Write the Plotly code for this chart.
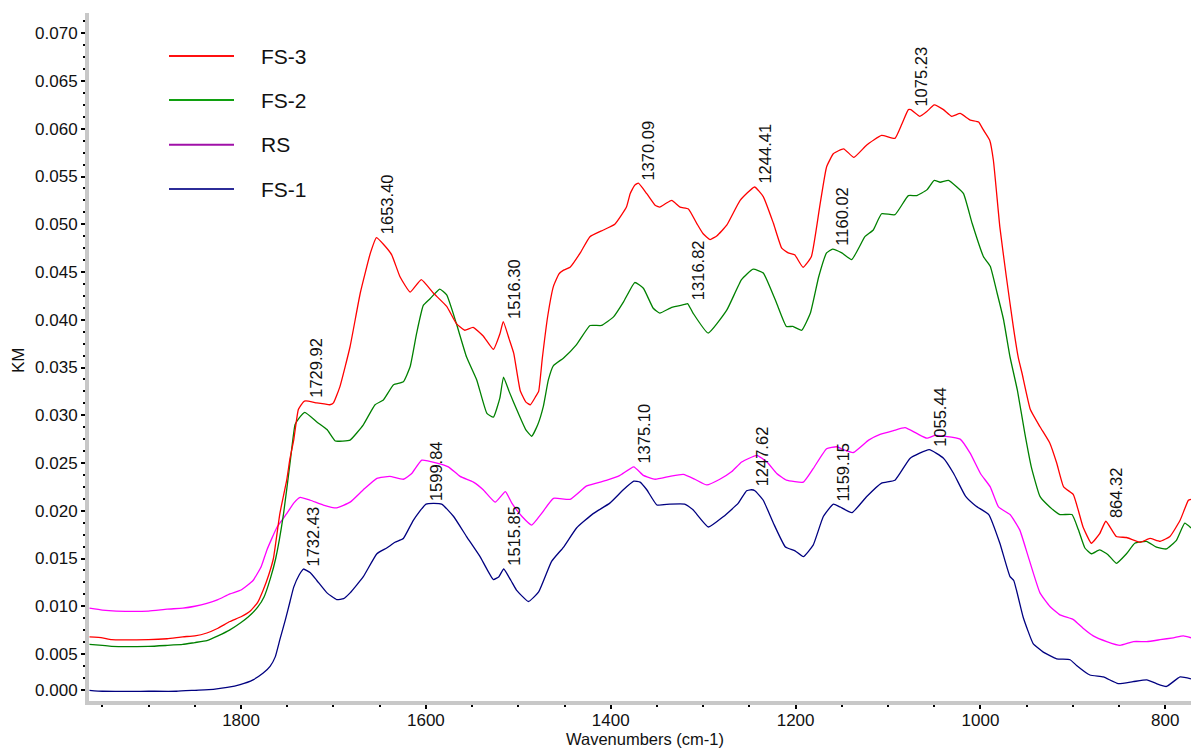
import numpy as np
import plotly.graph_objects as go

# ---------------- data ----------------
wn_fs3 = [1964, 1950, 1940, 1900, 1880, 1863, 1850, 1837, 1825, 1812, 1800, 1790, 1782, 1776, 1770, 1765,
          1758, 1750.6, 1747, 1743, 1738, 1732.6, 1729.92, 1718, 1710, 1704, 1700, 1693, 1682, 1671, 1660,
          1653.40, 1645, 1637, 1628, 1617, 1605, 1592, 1577.5, 1567, 1558, 1549, 1538, 1527, 1520, 1516.30,
          1510, 1505, 1498, 1492, 1487, 1481, 1478, 1474, 1468, 1462, 1456, 1451, 1444, 1433, 1422.5, 1408,
          1395.6, 1383, 1379, 1374, 1370.09, 1361, 1352, 1347, 1340, 1334, 1325, 1316, 1307, 1300, 1292.6,
          1285, 1274.5, 1260, 1244.41, 1235, 1224, 1215, 1208, 1201, 1192, 1183, 1174, 1166.5, 1159, 1148,
          1137, 1123, 1107, 1092.5, 1085, 1078, 1075.23, 1065.5, 1058, 1050, 1040, 1031, 1022, 1011, 1002,
          997, 990, 986, 979, 972, 964.5, 959, 955, 946, 935.6, 925, 917.5, 910, 899.5, 894, 889, 880, 871,
          864.32, 853, 842, 827, 816.6, 805.7, 795, 784, 775, 772.2]
km_fs3 = [0.0068, 0.0067, 0.0065, 0.0065, 0.0066, 0.0068, 0.0069, 0.0072, 0.0077, 0.0084, 0.0089, 0.0095,
          0.0104, 0.0117, 0.0133, 0.0150, 0.0197, 0.0232, 0.0255, 0.0274, 0.0306, 0.0314, 0.0315, 0.0313,
          0.0312, 0.0311, 0.0313, 0.0330, 0.0372, 0.0428, 0.0470, 0.0486, 0.0478, 0.0468, 0.0445, 0.0429,
          0.0442, 0.0428, 0.0414, 0.0396, 0.0389, 0.0392, 0.0383, 0.0369, 0.0385, 0.0398, 0.0380, 0.0365,
          0.0326, 0.0314, 0.0311, 0.0320, 0.0325, 0.0360, 0.0405, 0.0435, 0.0448, 0.0452, 0.0455, 0.0470,
          0.0487, 0.0494, 0.0500, 0.0518, 0.0532, 0.0541, 0.0543, 0.0532, 0.0520, 0.0518, 0.0522, 0.0525,
          0.0518, 0.0516, 0.0501, 0.0490, 0.0484, 0.0488, 0.0499, 0.0525, 0.0539, 0.0529, 0.0501, 0.0475,
          0.0470, 0.0468, 0.0455, 0.0466, 0.0518, 0.0560, 0.0574, 0.0579, 0.0570, 0.0583, 0.0593, 0.0590,
          0.0605, 0.0620, 0.0620, 0.0613, 0.0618, 0.0625, 0.0620, 0.0613, 0.0616, 0.0609, 0.0607, 0.0599,
          0.0588, 0.0567, 0.0497, 0.0445, 0.0393, 0.0360, 0.0344, 0.0306, 0.0288, 0.0271, 0.0250, 0.0225,
          0.0217, 0.0200, 0.0183, 0.0166, 0.0176, 0.0189, 0.0173, 0.0172, 0.0167, 0.0171, 0.0168, 0.0173,
          0.0190, 0.0211, 0.0212]

wn_fs2 = [1964, 1950, 1940, 1900, 1880, 1863, 1850, 1837, 1825, 1812.5, 1800, 1792, 1782, 1775, 1768, 1762.5,
          1754, 1747, 1741.6, 1738, 1731, 1718, 1707, 1698, 1690, 1682, 1667.7, 1655, 1646, 1635, 1624.4,
          1617, 1610, 1602.8, 1595.5, 1585, 1577.5, 1567, 1556, 1545, 1534, 1527, 1520, 1516, 1510, 1500,
          1492, 1485.5, 1479, 1473, 1467.5, 1462, 1451, 1437, 1422.4, 1410, 1397, 1386, 1374, 1364.7, 1354,
          1347, 1334, 1320, 1316.82, 1311, 1294.6, 1274.5, 1258.5, 1246, 1235, 1220.4, 1210, 1203, 1193.4,
          1184, 1175, 1166.5, 1160.02, 1150, 1139.3, 1125, 1116, 1107, 1092.5, 1078, 1069, 1058, 1050,
          1043.6, 1034.6, 1025.5, 1018.3, 1009, 996.7, 989.4, 982, 975, 968, 960, 952, 945, 935.6, 925, 914,
          901, 894, 887, 880, 871, 862, 853, 842, 833, 820.4, 809.6, 798.8, 788, 779, 772.2]
km_fs2 = [0.0060, 0.0059, 0.0058, 0.0058, 0.0059, 0.0060, 0.0062, 0.0064, 0.0069, 0.0075, 0.0083, 0.0089,
          0.0099, 0.0110, 0.0130, 0.0150, 0.0197, 0.0250, 0.0290, 0.0296, 0.0303, 0.0293, 0.0285, 0.0273,
          0.0273, 0.0274, 0.0290, 0.0311, 0.0316, 0.0332, 0.0335, 0.0351, 0.0386, 0.0415, 0.0422, 0.0432,
          0.0426, 0.0396, 0.0361, 0.0337, 0.0302, 0.0298, 0.0318, 0.0340, 0.0325, 0.0302, 0.0285, 0.0278,
          0.0290, 0.0309, 0.0337, 0.0352, 0.0360, 0.0374, 0.0394, 0.0394, 0.0403, 0.0419, 0.0439, 0.0433,
          0.0412, 0.0407, 0.0413, 0.0416, 0.0417, 0.0407, 0.0386, 0.0410, 0.0442, 0.0453, 0.0449, 0.0417,
          0.0393, 0.0393, 0.0389, 0.0407, 0.0445, 0.0470, 0.0474, 0.0470, 0.0463, 0.0487, 0.0494, 0.0511,
          0.0510, 0.0530, 0.0530, 0.0536, 0.0546, 0.0544, 0.0546, 0.0539, 0.0532, 0.0501, 0.0466, 0.0456,
          0.0428, 0.0400, 0.0361, 0.0326, 0.0281, 0.0246, 0.0215, 0.0204, 0.0196, 0.0196, 0.0180, 0.0161,
          0.0155, 0.0159, 0.0154, 0.0145, 0.0155, 0.0166, 0.0168, 0.0162, 0.0160, 0.0169, 0.0187, 0.0182]

wn_rs = [1964, 1950, 1935, 1900, 1880, 1863, 1850, 1837, 1825, 1812, 1800, 1787, 1778, 1772, 1761, 1750.6,
         1743, 1736, 1725, 1711, 1696.5, 1682, 1667.7, 1653, 1639, 1624.4, 1615.3, 1604.5, 1588, 1575.7,
         1563, 1548.6, 1538, 1525, 1514, 1507, 1496, 1485.5, 1475, 1462, 1444, 1426, 1404, 1390, 1375.10,
         1364.7, 1352, 1336, 1321.5, 1309, 1296, 1282, 1269, 1258.4, 1242, 1231, 1220.4, 1210, 1191.6, 1181,
         1166.5, 1155.6, 1148.5, 1137.6, 1121, 1108.6, 1094, 1081.6, 1069, 1058, 1049, 1038.5, 1022, 1011,
         1000, 989.4, 980.5, 968, 957.5, 948.3, 935.6, 925, 914, 899.5, 889, 878, 863.4, 849, 834.6, 820,
         805.6, 791.3, 780.4, 772.2]
km_rs = [0.0098, 0.0096, 0.0095, 0.0095, 0.0097, 0.0098, 0.0100, 0.0103, 0.0107, 0.0113, 0.0117, 0.0127,
         0.0142, 0.0159, 0.0183, 0.0197, 0.0208, 0.0214, 0.0211, 0.0206, 0.0203, 0.0209, 0.0222, 0.0234,
         0.0236, 0.0233, 0.0239, 0.0253, 0.0250, 0.0246, 0.0236, 0.0230, 0.0222, 0.0209, 0.0220, 0.0208,
         0.0194, 0.0185, 0.0197, 0.0213, 0.0212, 0.0226, 0.0232, 0.0237, 0.0246, 0.0237, 0.0233, 0.0236,
         0.0238, 0.0233, 0.0227, 0.0233, 0.0241, 0.0251, 0.0258, 0.0251, 0.0239, 0.0232, 0.0230, 0.0244,
         0.0265, 0.0267, 0.0264, 0.0261, 0.0274, 0.0280, 0.0284, 0.0287, 0.0281, 0.0276, 0.0279, 0.0278,
         0.0275, 0.0260, 0.0239, 0.0225, 0.0204, 0.0196, 0.0180, 0.0152, 0.0114, 0.0100, 0.0091, 0.0086,
         0.0077, 0.0069, 0.0063, 0.0059, 0.0063, 0.0063, 0.0065, 0.0067, 0.0069, 0.0067]

wn_fs1 = [1964, 1950, 1900, 1870, 1850, 1830, 1815, 1801, 1787, 1776, 1768.6, 1763, 1758, 1752, 1747, 1743,
          1737, 1732.43, 1725, 1718, 1707, 1696.5, 1689, 1682, 1667.7, 1653, 1642.4, 1633.4, 1624.4, 1613.6,
          1599.84, 1583, 1570, 1556, 1541.4, 1527, 1521, 1515.85, 1508, 1502, 1489, 1478, 1464, 1451, 1437,
          1419, 1401, 1386.4, 1375.1, 1368.3, 1361, 1350, 1336, 1320, 1311, 1294.4, 1278, 1262, 1253,
          1247.62, 1244, 1235, 1224, 1211, 1200.6, 1191.6, 1181, 1170, 1159.15, 1152, 1139, 1123, 1107,
          1092.5, 1076, 1055.44, 1040, 1029, 1016, 1005, 991, 979, 968, 964, 953.6, 943, 932, 917.6, 903,
          896, 881.6, 867, 851, 835, 820, 809.6, 798.8, 784, 772.2]
km_fs1 = [0.0012, 0.0011, 0.0011, 0.0011, 0.0012, 0.0013, 0.0015, 0.0018, 0.0023, 0.0030, 0.0037, 0.0047,
          0.0065, 0.0086, 0.0105, 0.0120, 0.0133, 0.0139, 0.0135, 0.0127, 0.0114, 0.0107, 0.0108, 0.0114,
          0.0131, 0.0155, 0.0161, 0.0167, 0.0171, 0.0190, 0.0207, 0.0207, 0.0194, 0.0173, 0.0152, 0.0128,
          0.0131, 0.0139, 0.0127, 0.0117, 0.0105, 0.0115, 0.0147, 0.0162, 0.0182, 0.0197, 0.0208, 0.0222,
          0.0231, 0.0230, 0.0222, 0.0206, 0.0207, 0.0207, 0.0201, 0.0183, 0.0194, 0.0208, 0.0221, 0.0222,
          0.0221, 0.0211, 0.0187, 0.0162, 0.0158, 0.0152, 0.0164, 0.0194, 0.0207, 0.0204, 0.0198, 0.0215,
          0.0229, 0.0232, 0.0255, 0.0264, 0.0255, 0.0239, 0.0215, 0.0205, 0.0196, 0.0166, 0.0131, 0.0127,
          0.0088, 0.0061, 0.0052, 0.0045, 0.0044, 0.0038, 0.0028, 0.0026, 0.0019, 0.0021, 0.0023, 0.0019,
          0.0016, 0.0026, 0.0024]

series_names = ["FS-3", "FS-2", "RS", "FS-1"]
line_colors = {"FS-3": "#ff0000", "FS-2": "#008000", "RS": "#ff00ff", "FS-1": "#000080"}
legend_colors = {"FS-3": "#ff1010", "FS-2": "#10a010", "RS": "#a010a8", "FS-1": "#2c2c98"}

# peak labels: (text, series)
peak_labels = [("1729.92", "FS-3"), ("1653.40", "FS-3"), ("1516.30", "FS-3"), ("1370.09", "FS-3"),
               ("1244.41", "FS-3"), ("1075.23", "FS-3"), ("864.32", "FS-3"),
               ("1316.82", "FS-2"), ("1160.02", "FS-2"),
               ("1375.10", "RS"),
               ("1732.43", "FS-1"), ("1599.84", "FS-1"), ("1515.85", "FS-1"), ("1247.62", "FS-1"),
               ("1159.15", "FS-1"), ("1055.44", "FS-1")]

x_ticks = [1800, 1600, 1400, 1200, 1000, 800]
y_tick_text = ["0.000", "0.005", "0.010", "0.015", "0.020", "0.025", "0.030", "0.035",
               "0.040", "0.045", "0.050", "0.055", "0.060", "0.065", "0.070"]

data = {"FS-3": (wn_fs3, km_fs3), "FS-2": (wn_fs2, km_fs2), "RS": (wn_rs, km_rs), "FS-1": (wn_fs1, km_fs1)}

FONT = "Liberation Sans, Arial, sans-serif"
TXT = "#111111"

fig = go.Figure()
for name in ["FS-1", "RS", "FS-2", "FS-3"]:
    wx, ky = data[name]
    fig.add_trace(go.Scatter(x=wx, y=ky, mode="lines", name=name,
                             line=dict(color=line_colors[name], width=1.3, shape="spline", smoothing=0.4),
                             showlegend=False, hoverinfo="skip"))

# geometry of plot area (pixels)
W, H = 1191, 749
ML, MR, MT, MB = 89, 0, 13, 48
PW, PH = W - ML - MR, H - MT - MB


def px_x(p):
    return (p - ML) / PW


def px_y(p):
    return (H - MB - p) / PH


annotations = []
for text, name in peak_labels:
    wx, ky = data[name]
    w = float(text)
    v = float(np.interp(w, wx[::-1], ky[::-1]))
    annotations.append(dict(x=w, y=v, xref="x", yref="y", text=text, showarrow=False, textangle=-90,
                            xanchor="center", yanchor="bottom", xshift=10, yshift=1,
                            font=dict(family=FONT, size=16.5, color=TXT)))

# manual legend
shapes = []
leg_y = [56, 100, 144.7, 189]
for name, py in zip(series_names, leg_y):
    shapes.append(dict(type="line", xref="paper", yref="paper", x0=px_x(169), x1=px_x(234),
                       y0=px_y(py), y1=px_y(py), line=dict(color=legend_colors[name], width=2)))
    annotations.append(dict(x=px_x(259), y=px_y(py), xref="paper", yref="paper", text=name,
                            showarrow=False, xanchor="left", yanchor="middle",
                            font=dict(family=FONT, size=21, color=TXT)))

# axis titles
annotations.append(dict(x=px_x(645), y=0, xref="paper", yref="paper", yshift=-(749 - 13 - 688) + 0,
                        text="Wavenumbers (cm-1)", showarrow=False, xanchor="center", yanchor="bottom",
                        borderpad=0, font=dict(family=FONT, size=16.5, color=TXT)))
annotations.append(dict(x=px_x(18), y=px_y(360), xref="paper", yref="paper", text="KM", textangle=-90,
                        showarrow=False, xanchor="center", yanchor="middle",
                        font=dict(family=FONT, size=17, color=TXT)))

# y tick positions: labelled ticks at 0.005 steps; the reference draws its "0.000" tick a quarter step up
y_tick_vals = [0.00123] + [0.005 * i for i in range(1, 15)]

fig.update_layout(
    width=W, height=H, margin=dict(l=ML, r=MR, t=MT, b=MB),
    paper_bgcolor="white", plot_bgcolor="white",
    font=dict(family=FONT, color=TXT),
    showlegend=False,
    xaxis=dict(range=[1964.5, 772.2], showgrid=False, zeroline=False,
               showline=True, linecolor="#c8c8c8", linewidth=4,
               ticks="outside", tickcolor="#000000", ticklen=4, tickwidth=1.5,
               ticklabelstandoff=-3,
               tickmode="array", tickvals=x_ticks, ticktext=[str(t) for t in x_ticks],
               tickfont=dict(family=FONT, size=17, color=TXT),
               minor=dict(ticks="outside", ticklen=2, tickcolor="#000000", tickwidth=1.5,
                          tickmode="linear", tick0=0, dtick=50, showgrid=False)),
    yaxis=dict(range=[0.00008, 0.07212], showgrid=False, zeroline=False,
               showline=True, linecolor="#c8c8c8", linewidth=4,
               ticks="outside", tickcolor="#000000", ticklen=4, tickwidth=1.5,
               tickmode="array", tickvals=y_tick_vals, ticktext=y_tick_text,
               tickfont=dict(family=FONT, size=17, color=TXT),
               minor=dict(ticks="outside", ticklen=2, tickcolor="#000000", tickwidth=1.5,
                          tickmode="linear", tick0=0, dtick=0.00125, showgrid=False)),
    shapes=shapes,
    annotations=annotations,
)

fig.write_html("out.html", config={"displayModeBar": False})
